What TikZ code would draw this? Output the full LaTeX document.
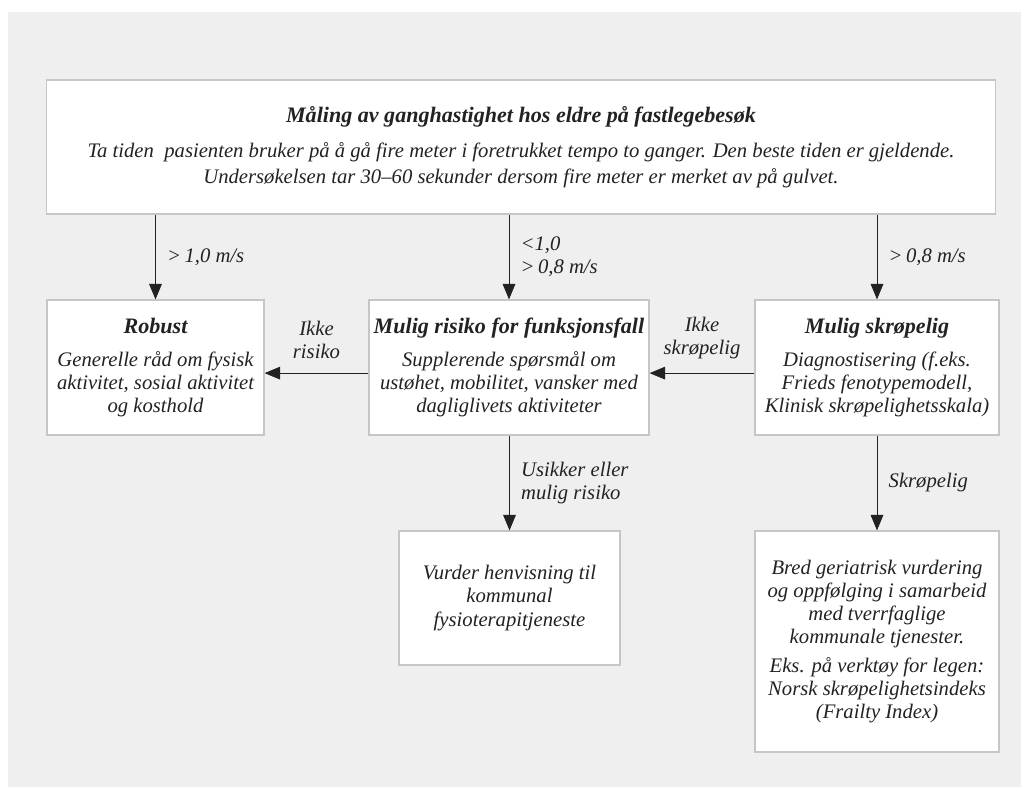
\documentclass[tikz,border=0pt]{standalone}
\usepackage{fontspec}
\setmainfont{Liberation Serif}
\usetikzlibrary{arrows.meta,positioning}
\definecolor{bggray}{HTML}{EFEFEF}
\definecolor{boxline}{HTML}{C6C6C6}
\definecolor{txt}{HTML}{222222}
\newcommand{\boxtitle}[1]{{\bfseries\fontsize{15.7}{16.4}\selectfont #1}}
\begin{document}
\begin{tikzpicture}[x=0.025cm,y=-0.025cm,
	box/.style={draw=boxline, line width=0.8pt, fill=white, align=center, inner sep=0pt, text=txt, font=\itshape\fontsize{14.7}{16.4}\selectfont},
	flow/.style={draw=txt, line width=0.6pt, -{Triangle[length=11pt,width=9pt]}},
	lbl/.style={text=txt, align=left, inner sep=0pt, font=\itshape\fontsize{14.7}{16.4}\selectfont}]
			%background
			\useasboundingbox (0,0) rectangle (1021,787);
			\fill[bggray] (8,12) rectangle (1021,787);
			%Boxes
			\node[box, minimum width=23.7cm, minimum height=3.35cm, font=\itshape\fontsize{14.7}{18.5}\selectfont] (maal) at (521,147)
				{\boxtitle{Måling av ganghastighet hos eldre på fastlegebesøk}\\[6pt]
				Ta tiden~ pasienten bruker på å gå fire meter i foretrukket tempo to ganger. Den beste tiden er gjeldende.\\
				Undersøkelsen tar 30–60 sekunder dersom fire meter er merket av på gulvet.};
			\node[box, minimum width=5.425cm, minimum height=3.375cm] (robust) at (155.5,367.5)
				{\boxtitle{Robust}\\[7pt]Generelle råd om fysisk\\aktivitet, sosial aktivitet\\og kosthold};
			\node[box, minimum width=7cm, minimum height=3.375cm] (risiko) at (509,367.5)
				{\boxtitle{Mulig risiko for funksjonsfall}\\[7pt]Supplerende spørsmål om\\ustøhet, mobilitet, vansker med\\dagliglivets aktiviteter};
			\node[box, minimum width=6.1cm, minimum height=3.375cm] (skrop) at (877,367.5)
				{\boxtitle{Mulig skrøpelig}\\[7pt]Diagnostisering (f.eks.\\Frieds fenotypemodell,\\Klinisk skrøpelighetsskala)};
			\node[box, minimum width=5.525cm, minimum height=3.35cm] (fysio) at (509.5,598)
				{Vurder henvisning til\\kommunal\\fysioterapitjeneste};
			\node[box, minimum width=6.1cm, minimum height=5.525cm] (geri) at (877,641.5)
				{Bred geriatrisk vurdering\\og oppfølging i samarbeid\\med tverrfaglige\\kommunale tjenester.\\[4pt]
				Eks. på verktøy for legen:\\Norsk skrøpelighetsindeks\\(Frailty Index)};
			%Arrows
			\draw[flow] (robust.north |- maal.south) -- node[lbl, right=8pt] {>\,1,0 m/s} (robust.north);
			\draw[flow] (risiko.north |- maal.south) -- node[lbl, right=8pt] {<1,0\\>\,0,8 m/s} (risiko.north);
			\draw[flow] (skrop.north |- maal.south) -- node[lbl, right=8pt] {>\,0,8 m/s} (skrop.north);
			\draw[flow] ([yshift=-4pt]risiko.west) -- node[lbl, above=10pt, align=center] {Ikke\\risiko} ([yshift=-4pt]robust.east);
			\draw[flow] ([yshift=-4pt]skrop.west) -- node[lbl, above=10pt, align=center] {Ikke\\skrøpelig} ([yshift=-4pt]risiko.east);
			\draw[flow] (fysio.north |- risiko.south) -- node[lbl, right=8pt] {Usikker eller\\mulig risiko} (fysio.north);
			\draw[flow] (skrop.south) -- node[lbl, right=8pt] {Skrøpelig} (geri.north);
		\end{tikzpicture}
\end{document}
